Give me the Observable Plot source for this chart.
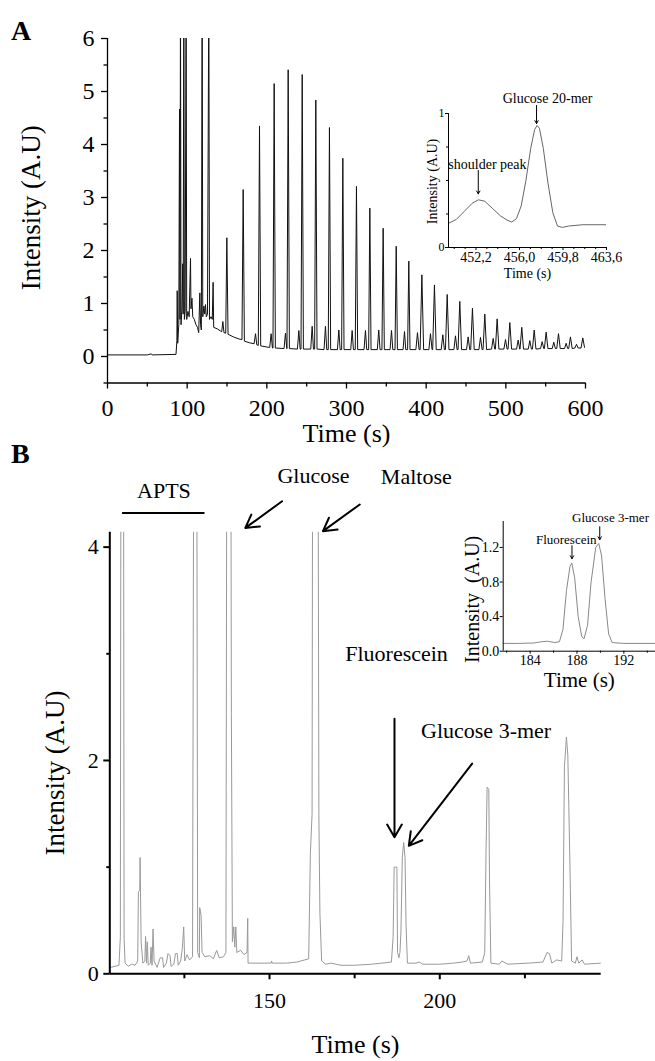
<!DOCTYPE html>
<html><head><meta charset="utf-8">
<script src="https://cdn.jsdelivr.net/npm/d3@7"></script>
<script src="https://cdn.jsdelivr.net/npm/@observablehq/plot@0.6"></script>
<style>
html,body{margin:0;padding:0;background:#fff;}
#root{position:relative;width:655px;height:1061px;overflow:hidden;font-family:"Liberation Serif",serif;}
#root svg{position:absolute;overflow:visible;}
.panel{position:absolute;font-weight:bold;font-size:28px;line-height:28px;font-family:"Liberation Serif",serif;}
</style></head><body>
<div id="root">
  <div class="panel" style="left:11px;top:17px;">A</div>
  <div class="panel" style="left:11px;top:440px;">B</div>
</div>
<script>
// ---------- Panel A: full electropherogram (time s, intensity A.U) ----------
const traceA = [
 [0,0.03],[50,0.03],[55,0.05],[56,0.03],[86,0.04],[87.1,0.3],[87.5,1.24],[88.1,0.25],[89.5,0.6],[90.4,4.67],[91.0,0.7],[91.6,7],[92.3,0.6],[93.5,0.9],[94.5,1.75],[95.0,0.8],[95.8,7],[96.5,0.7],[97.5,0.85],[98.7,7],[99.4,0.7],[101,0.85],[102.5,0.75],[104.2,1.85],[104.8,0.9],[106,1.1],[107,0.75],[109,0.7],[111,0.6],[113,0.55],[114.5,0.45],[115.9,1.2],[116.8,0.6],[117.8,0.5],[118.8,7],[119.6,0.75],[121,0.95],[122,0.8],[123,0.98],[124,0.75],[125.5,0.8],[127.2,7],[128,0.7],[130,0.75],[131.5,0.7],[132.6,1.4],[133.3,0.55],[138,0.52],[142,0.48],[143.4,0.47],[144.8,0.66],[146.2,0.45],[148.4,0.44],[149.8,2.24],[151.3,0.42],[158,0.37],[165,0.33],[168.8,0.32],[170.3,3.15],[171.8,0.29],[178,0.26],[184,0.24],[185.8,0.43],[187.4,0.22],[189.3,0.21],[190.8,4.35],[192.3,0.2],[200,0.18],
 [203.6,0.17],[205.4,0.43],[207.0,0.16],[207.7,0.16],[209.2,5.15],[210.7,0.16],
 [221.6,0.15],[223.4,0.44],[225.0,0.15],[225.3,0.15],[226.8,5.41],[228.3,0.15],
 [238.4,0.14],[240.2,0.49],[241.8,0.14],[242.9,0.14],[244.4,5.32],[245.9,0.14],
 [255.1,0.14],[256.9,0.57],[258.5,0.14],[260.0,0.14],[261.5,4.84],[263.0,0.14],
 [271.8,0.13],[273.6,0.57],[275.2,0.13],[277.1,0.13],[278.6,4.32],[280.1,0.13],
 [288.6,0.13],[290.4,0.50],[292.0,0.13],[293.9,0.13],[295.4,3.74],[296.9,0.13],
 [305.3,0.13],[307.1,0.49],[308.7,0.13],[311.0,0.13],[312.5,3.21],[314.0,0.13],
 [322.0,0.13],[323.8,0.49],[325.4,0.13],[327.8,0.13],[329.3,2.80],[330.8,0.13],
 [338.7,0.13],[340.5,0.50],[342.1,0.13],[344.5,0.13],[346.0,2.42],[347.5,0.13],
 [354.7,0.13],[356.5,0.49],[358.1,0.13],[360.9,0.13],[362.4,2.08],[363.9,0.13],
 [371.0,0.13],[372.8,0.47],[374.4,0.13],[376.7,0.13],[378.2,1.80],[379.7,0.13],
 [387.1,0.13],[389.1,0.45],[391.1,0.13],[392.4,0.13],[394.6,1.54],[396.8,0.13],
 [403.4,0.13],[405.4,0.43],[407.4,0.13],[408.2,0.13],[410.4,1.35],[412.6,0.13],
 [418.9,0.13],[420.9,0.41],[422.9,0.13],[424.2,0.13],[426.4,1.17],[428.6,0.13],
 [434.8,0.13],[436.8,0.39],[438.8,0.13],[440.0,0.13],[442.2,1.04],[444.4,0.13],
 [450.7,0.13],[452.7,0.37],[454.7,0.13],[455.9,0.13],[458.1,0.91],[460.3,0.13],
 [466.2,0.13],[468.2,0.36],[470.2,0.13],[471.4,0.13],[473.6,0.80],[475.8,0.13],
 [482.1,0.14],[484.1,0.34],[486.1,0.14],[486.9,0.14],[489.1,0.71],[491.3,0.14],
 [497.6,0.14],[499.6,0.32],[501.6,0.14],[502.8,0.14],[505.0,0.64],[507.2,0.14],
 [513.5,0.14],[515.5,0.31],[517.5,0.14],[517.8,0.14],[520.0,0.55],[522.2,0.14],
 [528.1,0.14],[530.1,0.30],[532.1,0.14],[533.4,0.14],[535.6,0.50],[537.8,0.14],
 [543.6,0.15],[545.6,0.28],[547.6,0.15],[548.4,0.15],[550.6,0.46],[552.8,0.15],
 [558.2,0.15],[560.2,0.27],[562.2,0.15],[563.9,0.15],[566.1,0.43],[568.3,0.15],
 [573.7,0.15],[575.7,0.25],[577.7,0.15],[578.9,0.15],[581.1,0.37],[583.3,0.15],
 [586.7,0.16],[588.7,0.23],[590.7,0.16],[594.4,0.16],[596.6,0.35],[598.8,0.17],[600,0.19]
];
const aXMajor = [0,100,200,300,400,500,600];
const aXMinor = [50,150,250,350,450,550];
const aYMajor = [0,1,2,3,4,5,6];
const aYMinor = [-0.5,0.5,1.5,2.5,3.5,4.5,5.5];

// ---------- Inset A: glucose 20-mer zoom ----------
const insetA = [
 [449.8,0.18],[450.49,0.21],[451.18,0.27],[451.87,0.33],[452.42,0.356],[452.97,0.345],[453.66,0.29],[454.35,0.235],[454.91,0.205],[455.32,0.19],[455.73,0.215],[456.15,0.31],[456.56,0.5],[456.98,0.74],[457.32,0.88],[457.53,0.91],[457.74,0.89],[458.08,0.74],[458.49,0.48],[458.91,0.26],[459.32,0.16],[459.74,0.15],[460.29,0.16],[461.53,0.17],[463.6,0.17]
];
const insetAXTicks = [452.2,456.0,459.8,463.6];
const insetAXLabels = ["452,2","456,0","459,8","463,6"];
const insetAXMinor = [450.3,451.25,453.15,454.1,455.05,456.95,457.9,458.85,460.75,461.7,462.65];
const insetAYTicks = [0,1];
const insetAYMinor = [0.25,0.5,0.75];
const insetALabels = [
 {label:"Glucose 20-mer", t:458.45, v:1.11},
 {label:"shoulder peak", t:453.2, v:0.62}
];
const insetAArrows = [
 {t:457.49, v1:1.06, v2:0.925},
 {t:452.4, v1:0.575, v2:0.40}
];

// ---------- Panel B: early separation ----------
const traceB = [
 [103.3,0.06],[105.8,0.08],[106.2,0.35],[106.4,6],[107.1,6],[107.3,0.33],[107.6,0.1],[108.5,0.07],[109.5,0.09],[110.5,0.08],[111.3,0.12],[111.5,0.77],[111.9,0.78],[112.0,1.09],[112.3,0.3],[112.8,0.1],[113.4,0.12],[113.6,0.35],[113.9,0.1],[114.1,0.3],[114.4,0.08],[115.0,0.1],[115.2,0.25],[115.5,0.08],[115.8,0.42],[116.1,0.12],[117,0.06],[117.9,0.15],[118.6,0.15],[118.9,0.06],[119.7,0.1],[120.2,0.19],[120.8,0.17],[121.1,0.07],[121.9,0.09],[122.4,0.19],[122.9,0.19],[123.2,0.08],[123.9,0.12],[124.4,0.24],[124.8,0.44],[125.1,0.12],[125.8,0.18],[126.5,0.13],[127.4,0.16],[127.8,6],[128.6,6],[128.9,0.2],[129.4,0.15],[129.5,0.62],[129.9,0.55],[130.2,0.2],[131,0.16],[132.5,0.17],[133.5,0.14],[134.5,0.22],[135.2,0.15],[136.5,0.16],[137.2,0.2],[137.5,6],[138.6,6],[138.8,2.44],[139.1,0.3],[139.5,0.44],[139.8,0.25],[140.1,0.44],[140.4,0.2],[141.5,0.22],[142.5,0.18],[143.4,0.2],[143.6,0.52],[143.7,0.10],[150.5,0.10],[150.6,0.12],[150.8,0.10],[155,0.10],[158,0.11],[161.5,0.14],[162.0,1.13],[162.5,1.5],[162.7,6],[164.2,6],[164.5,1.47],[164.8,0.57],[165.3,0.12],[166.5,0.09],[168,0.1],[171,0.08],[175,0.08],[180,0.09],[185.8,0.11],[186.3,0.35],[186.6,1.0],[187.4,1.0],[187.6,0.2],[188.0,0.15],[188.3,0.2],[188.6,0.4],[189.0,1.09],[189.4,1.23],[189.8,1.09],[190.1,0.45],[190.5,0.1],[193,0.1],[194,0.11],[195,0.09],[200,0.09],[204,0.1],[206.5,0.11],[208.0,0.12],[208.5,0.17],[209.0,0.1],[212.5,0.11],[213.2,0.2],[213.6,1.19],[213.9,1.75],[214.4,1.73],[214.6,0.88],[215.0,0.1],[217.5,0.09],[218.2,0.12],[220,0.09],[226,0.1],[230.3,0.11],[231.5,0.2],[232.2,0.19],[232.9,0.1],[234.3,0.13],[235.8,0.12],[236.2,0.5],[236.6,1.94],[237.2,2.22],[237.6,2.05],[238.3,0.88],[238.7,0.12],[239.8,0.1],[240.3,0.16],[240.8,0.1],[241.8,0.13],[242.5,0.09],[247.3,0.1]
];
const bXMajor = [150,200];
const bXMinor = [125,175,225];
const bYMajor = [0,2,4];
const bYMinor = [1,3];
const bLabels = [
 {label:"APTS", t:119.0, v:4.53},
 {label:"Glucose", t:162.9, v:4.67},
 {label:"Maltose", t:193.1, v:4.66},
 {label:"Fluorescein", t:187.3, v:3.0},
 {label:"Glucose 3-mer", t:213.6, v:2.28}
];
const bArrows = [
 {t1:153.7, v1:4.43, t2:142.9, v2:4.18},
 {t1:176.5, v1:4.40, t2:165.7, v2:4.15},
 {t1:186.7, v1:2.39, t2:186.7, v2:1.28},
 {t1:209.5, v1:1.97, t2:190.9, v2:1.20}
];
const aptsBar = [{t1:106.7, t2:130.9, v:4.32}];

// ---------- Inset B: fluorescein / glucose 3-mer ----------
const insetB = [
 [181.7,0.09],[183,0.09],[184.3,0.095],[185.0,0.11],[185.5,0.115],[186.1,0.1],[186.5,0.11],[186.8,0.25],[187.1,0.7],[187.4,0.98],[187.55,1.02],[187.8,0.85],[188.1,0.4],[188.4,0.17],[188.6,0.143],[188.9,0.3],[189.2,0.8],[189.6,1.2],[189.86,1.246],[190.1,1.1],[190.4,0.6],[190.7,0.2],[191.0,0.1],[192,0.09],[194.7,0.09]
];
const insetBXTicks = [184,188,192];
const insetBXMinor = [182,186,190,194];
const insetBYTicks = [0,0.4,0.8,1.2];
const insetBLabels = [
 {label:"Glucose 3-mer", t:190.86, v:1.545},
 {label:"Fluorescein", t:187.08, v:1.285}
];
const insetBArrows = [
 {t:189.94, v1:1.44, v2:1.29},
 {t:187.57, v1:1.22, v2:1.07}
];

const FONT = "Liberation Serif";
const root = document.getElementById("root");
function place(svg, left, top) {
  svg.style.left = left + "px";
  svg.style.top = top + "px";
  root.appendChild(svg);
}
const X = d => d[0], Y = d => d[1];
const intFmt = d3.format("d");

// Panel A main
const plotA = Plot.plot({
  width: 655, height: 450,
  marginLeft: 107, marginRight: 70, marginTop: 38, marginBottom: 67.5,
  x: {domain: [0, 600], label: null},
  y: {domain: [-0.5, 6], label: null},
  style: {fontFamily: FONT, fontSize: "24px", background: "transparent", color: "#000"},
  marks: [
    Plot.line(traceA, {x: X, y: Y, stroke: "#111", strokeWidth: 1, clip: true}),
    Plot.axisX(aXMajor, {tickSize: 6, tickPadding: 10, fontSize: 24, label: null, strokeWidth: 1.3, tickFormat: intFmt}),
    Plot.axisX(aXMinor, {tickSize: 4, tickFormat: () => "", label: null, strokeWidth: 1.3}),
    Plot.axisY(aYMajor, {tickSize: 6, tickPadding: 7, fontSize: 24, label: null, strokeWidth: 1.3, tickFormat: intFmt}),
    Plot.axisY(aYMinor, {tickSize: 3.5, tickFormat: () => "", label: null, strokeWidth: 1.3}),
    Plot.ruleX([0], {stroke: "#000", strokeWidth: 1.3}),
    Plot.ruleY([-0.5], {stroke: "#000", strokeWidth: 1.3}),
    Plot.text(["Time (s)"], {text: d => d, frameAnchor: "bottom", dy: 51, textAnchor: "middle", lineAnchor: "middle", fontSize: 26}),
    Plot.text(["Intensity (A.U)"], {text: d => d, frameAnchor: "left", dx: -76, dy: -3, textAnchor: "middle", rotate: -90, lineAnchor: "middle", fontSize: 27})
  ]
});
place(plotA, 0, 0);

// Inset A
const plotAi = Plot.plot({
  width: 240, height: 205,
  marginLeft: 48, marginRight: 34, marginTop: 33, marginBottom: 38,
  x: {domain: [449.8, 463.6], label: null},
  y: {domain: [0, 1], label: null},
  style: {fontFamily: FONT, fontSize: "14px", background: "transparent", color: "#000"},
  marks: [
    Plot.line(insetA, {x: X, y: Y, stroke: "#666", strokeWidth: 1, clip: true}),
    Plot.axisX(insetAXTicks, {tickSize: 3, tickPadding: 2, fontSize: 14, label: null, tickFormat: d => insetAXLabels[insetAXTicks.indexOf(d)]}),
    Plot.axisX(insetAXMinor, {tickSize: 2, tickFormat: () => "", label: null}),
    Plot.axisY(insetAYTicks, {tickSize: 3, tickPadding: 1, fontSize: 12, label: null, tickFormat: intFmt}),
    Plot.axisY(insetAYMinor, {tickSize: 2, tickFormat: () => "", label: null}),
    Plot.ruleX([449.8], {stroke: "#000", strokeWidth: 1}),
    Plot.ruleY([0], {stroke: "#000", strokeWidth: 1}),
    Plot.text(insetALabels, {x: "t", y: "v", text: "label", textAnchor: "middle", lineAnchor: "middle", fontSize: 14}),
    Plot.arrow(insetAArrows, {x1: "t", x2: "t", y1: "v1", y2: "v2", headLength: 5, strokeWidth: 1, stroke: "#000"}),
    Plot.text(["Time (s)"], {text: d => d, frameAnchor: "bottom", dy: 26, textAnchor: "middle", lineAnchor: "middle", fontSize: 14}),
    Plot.text(["Intensity (A.U)"], {text: d => d, frameAnchor: "left", dx: -16, dy: 1, textAnchor: "middle", rotate: -90, lineAnchor: "middle", fontSize: 14})
  ]
});
place(plotAi, 400, 80);

// Panel B main
const plotB = Plot.plot({
  width: 655, height: 621,
  marginLeft: 109.3, marginRight: 54.3, marginTop: 91.7, marginBottom: 87.7,
  x: {domain: [103.1, 247.4], label: null},
  y: {domain: [0, 4.14], label: null},
  style: {fontFamily: FONT, fontSize: "22px", background: "transparent", color: "#000"},
  marks: [
    Plot.line(traceB, {x: X, y: Y, stroke: "#999", strokeWidth: 1, clip: true}),
    Plot.axisX(bXMajor, {tickSize: 6, tickPadding: 13, fontSize: 22, label: null, strokeWidth: 2, tickFormat: intFmt}),
    Plot.axisX(bXMinor, {tickSize: 5, tickFormat: () => "", label: null, strokeWidth: 2}),
    Plot.axisY(bYMajor, {tickSize: 6, tickPadding: 5, fontSize: 22, label: null, strokeWidth: 2, tickFormat: intFmt}),
    Plot.axisY(bYMinor, {tickSize: 3, tickFormat: () => "", label: null, strokeWidth: 2}),
    Plot.ruleX([103.1], {stroke: "#000", strokeWidth: 2}),
    Plot.ruleY([0], {stroke: "#000", strokeWidth: 2}),
    Plot.link(aptsBar, {x1: "t1", x2: "t2", y1: "v", y2: "v", stroke: "#000", strokeWidth: 2}),
    Plot.arrow(bArrows, {x1: "t1", y1: "v1", x2: "t2", y2: "v2", headLength: 11, strokeWidth: 2, stroke: "#000"}),
    Plot.text(bLabels, {x: "t", y: "v", text: "label", textAnchor: "middle", lineAnchor: "middle", fontSize: 22}),
    Plot.text(["Time (s)"], {text: d => d, frameAnchor: "bottom", dy: 71, textAnchor: "middle", lineAnchor: "middle", fontSize: 26}),
    Plot.text(["Intensity (A.U)"], {text: d => d, frameAnchor: "left", dx: -54, dy: 20, textAnchor: "middle", rotate: -90, lineAnchor: "middle", fontSize: 27})
  ]
});
place(plotB, 0, 440);

// Inset B
const plotBi = Plot.plot({
  width: 215, height: 195,
  marginLeft: 62.7, marginRight: 0, marginTop: 21, marginBottom: 44.3,
  x: {domain: [181.7, 194.7], label: null},
  y: {domain: [0, 1.5], label: null},
  style: {fontFamily: FONT, fontSize: "14px", background: "transparent", color: "#000"},
  marks: [
    Plot.line(insetB, {x: X, y: Y, stroke: "#888", strokeWidth: 1, clip: true}),
    Plot.axisX(insetBXTicks, {tickSize: 3, tickPadding: 1, fontSize: 14, label: null, tickFormat: intFmt}),
    Plot.axisX(insetBXMinor, {tickSize: 2, tickFormat: () => "", label: null}),
    Plot.axisY(insetBYTicks, {tickSize: 3, tickPadding: 1, fontSize: 14, label: null, tickFormat: d3.format(".1f")}),
    Plot.ruleX([181.7], {stroke: "#000", strokeWidth: 1}),
    Plot.ruleY([0], {stroke: "#000", strokeWidth: 1}),
    Plot.text(insetBLabels, {x: "t", y: "v", text: "label", textAnchor: "middle", lineAnchor: "middle", fontSize: 13}),
    Plot.arrow(insetBArrows, {x1: "t", x2: "t", y1: "v1", y2: "v2", headLength: 5, strokeWidth: 1, stroke: "#000"}),
    Plot.text(["Time (s)"], {text: d => d, frameAnchor: "bottom", dy: 29, textAnchor: "middle", lineAnchor: "middle", fontSize: 21}),
    Plot.text(["Intensity  (A.U)"], {text: d => d, frameAnchor: "left", dx: -31, dy: 13, textAnchor: "middle", rotate: -90, lineAnchor: "middle", fontSize: 20})
  ]
});
place(plotBi, 440, 500);
</script>
</body></html>
